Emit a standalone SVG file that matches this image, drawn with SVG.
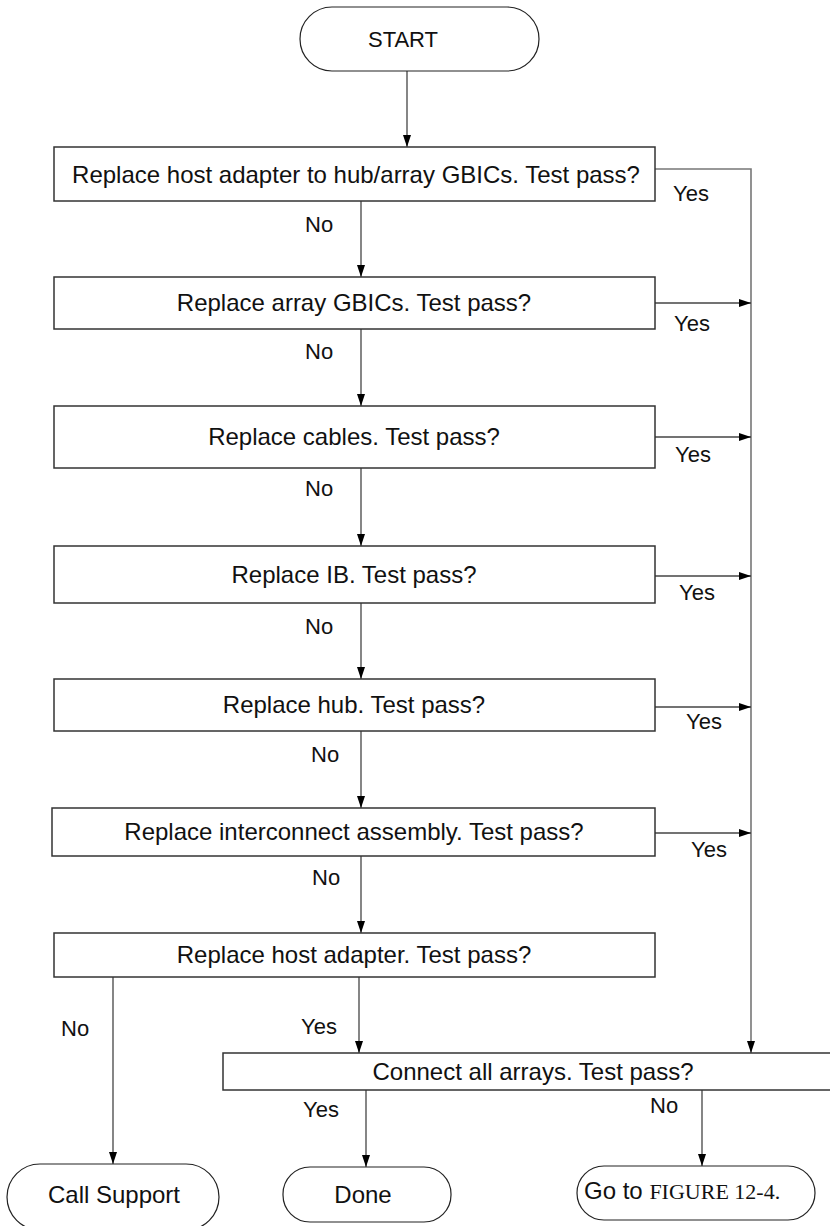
<svg xmlns="http://www.w3.org/2000/svg" width="830" height="1226" viewBox="0 0 830 1226">
<style>
.box{fill:#fff;stroke:#333;stroke-width:1.5}
.term{fill:#fff;stroke:#222;stroke-width:1.2}
.t{font-family:"Liberation Sans",Arial,sans-serif;font-size:24px;fill:#111;text-anchor:middle}
.lbl{font-family:"Liberation Sans",Arial,sans-serif;font-size:22px;fill:#111}
.ser{font-family:"Liberation Serif","Times New Roman",serif;font-size:22px}
.c{fill:none;stroke:#444;stroke-width:1.3}
.g{fill:none;stroke:#777;stroke-width:1.6}
</style>
<defs>
<marker id="ah" viewBox="0 0 12 8" refX="12" refY="4" markerWidth="12" markerHeight="8" markerUnits="userSpaceOnUse" orient="auto">
<path d="M0,0 L12,4 L0,8 Z" fill="#000"/>
</marker>
</defs>
<g id="connectors">
<path class="c" d="M407,71 V147" marker-end="url(#ah)"/>
<path class="c" d="M361,201 V277" marker-end="url(#ah)"/>
<path class="c" d="M361,329 V406" marker-end="url(#ah)"/>
<path class="c" d="M361,468 V546" marker-end="url(#ah)"/>
<path class="c" d="M361,603 V679" marker-end="url(#ah)"/>
<path class="c" d="M361,731 V808" marker-end="url(#ah)"/>
<path class="c" d="M361,856 V933" marker-end="url(#ah)"/>
<path class="c" d="M359,977 V1053" marker-end="url(#ah)"/>
<path class="c" d="M113,977 V1164" marker-end="url(#ah)"/>
<path class="g" d="M655,169 H751 V1053" marker-end="url(#ah)"/>
<path class="c" d="M655,303 H751" marker-end="url(#ah)"/>
<path class="c" d="M655,437 H751" marker-end="url(#ah)"/>
<path class="c" d="M655,576 H751" marker-end="url(#ah)"/>
<path class="c" d="M655,707 H751" marker-end="url(#ah)"/>
<path class="c" d="M655,833 H751" marker-end="url(#ah)"/>
<path class="c" d="M366,1090 V1167" marker-end="url(#ah)"/>
<path class="c" d="M702,1090 V1166" marker-end="url(#ah)"/>
<text class="lbl" x="673" y="201">Yes</text>
<text class="lbl" x="305" y="232">No</text>
<text class="lbl" x="674" y="331">Yes</text>
<text class="lbl" x="305" y="359">No</text>
<text class="lbl" x="675" y="462">Yes</text>
<text class="lbl" x="305" y="496">No</text>
<text class="lbl" x="679" y="600">Yes</text>
<text class="lbl" x="305" y="634">No</text>
<text class="lbl" x="686" y="729">Yes</text>
<text class="lbl" x="311" y="762">No</text>
<text class="lbl" x="691" y="857">Yes</text>
<text class="lbl" x="312" y="885">No</text>
<text class="lbl" x="61" y="1036">No</text>
<text class="lbl" x="301" y="1034">Yes</text>
<text class="lbl" x="303" y="1117">Yes</text>
<text class="lbl" x="650" y="1113">No</text>
</g>
<g id="start"><rect class="term" x="300" y="7" width="239" height="64" rx="32"/><text class="t" style="font-size:22px" x="403" y="47">START</text></g>
<g id="box1"><rect class="box" x="54" y="147" width="601" height="54"/><text class="t" x="356" y="183">Replace host adapter to hub/array GBICs. Test pass?</text></g>
<g id="box2"><rect class="box" x="54" y="277" width="601" height="52"/><text class="t" x="354" y="311">Replace array GBICs. Test pass?</text></g>
<g id="box3"><rect class="box" x="54" y="406" width="601" height="62"/><text class="t" x="354" y="445">Replace cables. Test pass?</text></g>
<g id="box4"><rect class="box" x="54" y="546" width="601" height="57"/><text class="t" x="354" y="583">Replace IB. Test pass?</text></g>
<g id="box5"><rect class="box" x="54" y="679" width="601" height="52"/><text class="t" x="354" y="713">Replace hub. Test pass?</text></g>
<g id="box6"><rect class="box" x="52" y="808" width="603" height="48"/><text class="t" x="354" y="840">Replace interconnect assembly. Test pass?</text></g>
<g id="box7"><rect class="box" x="54" y="933" width="601" height="44"/><text class="t" x="354" y="963">Replace host adapter. Test pass?</text></g>
<g id="connect"><rect class="box" x="223" y="1053" width="620" height="37"/><text class="t" x="533" y="1080">Connect all arrays. Test pass?</text></g>
<g id="callsupport"><rect class="term" x="7" y="1164" width="212" height="66" rx="33"/><text class="t" x="114" y="1203">Call Support</text></g>
<g id="done"><rect class="term" x="283" y="1167" width="168" height="55" rx="27"/><text class="t" x="363" y="1203">Done</text></g>
<g id="goto"><rect class="term" x="577" y="1166" width="238" height="54" rx="27"/><text class="t" style="text-anchor:start" x="584" y="1199">Go to <tspan class="ser">FIGURE 12-4.</tspan></text></g>
</svg>
